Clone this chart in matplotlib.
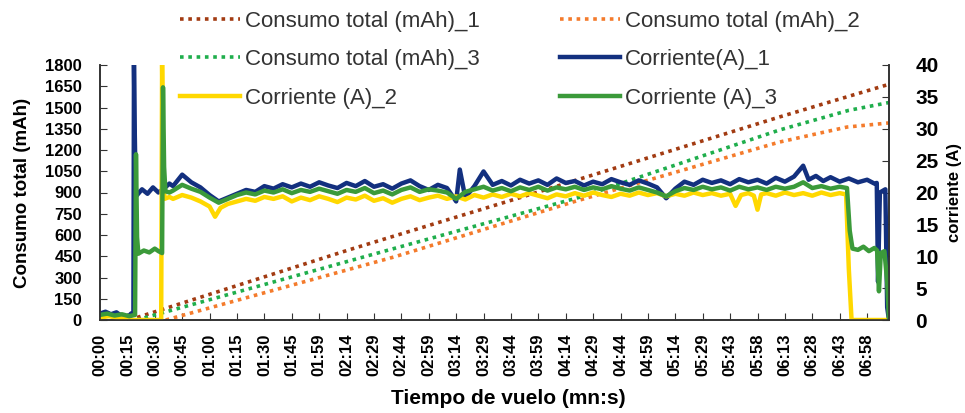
import matplotlib
matplotlib.use("Agg")
import matplotlib.pyplot as plt

plt.rcParams['font.family'] = ['Liberation Sans', 'DejaVu Sans']

# tick labels of the time axis (mn:s), one every ~15 s
tick_labels = ["00:00", "00:15", "00:30", "00:45", "01:00", "01:15", "01:30", "01:45",
               "01:59", "02:14", "02:29", "02:44", "02:59", "03:14", "03:29", "03:44",
               "03:59", "04:14", "04:29", "04:44", "04:59", "05:14", "05:29", "05:43",
               "05:58", "06:13", "06:28", "06:43", "06:58"]

# total consumption (mAh), read at a few points (time in s)
t_c1 = [16, 136, 231, 372, 431]
c1 = [0, 494, 868, 1433, 1660]
t_c2 = [36, 161, 259, 372, 409, 432]
c2 = [0, 445, 833, 1256, 1362, 1391]
t_c3 = [20, 158, 263, 372, 410, 432]
c3 = [0, 494, 868, 1341, 1480, 1535]

# current (A)
t_i1 = [0, 3, 6, 9, 12, 15, 17, 18.3, 18.6, 19.0, 19.5, 20, 23, 26, 29, 32, 35, 38,
        40, 45, 50, 55, 60, 65, 70, 75, 80, 85, 90, 95, 100, 105, 110, 115, 120, 125,
        130, 135, 140, 145, 150, 155, 160, 165, 170, 175, 180, 185, 190, 195, 197, 200,
        205, 210, 215, 220, 225, 230, 235, 240, 245, 250, 255, 260, 265, 270, 275, 280,
        285, 290, 295, 300, 305, 310, 315, 320, 325, 330, 335, 340, 345, 350, 355, 360,
        365, 370, 375, 380, 385, 388, 392, 396, 400, 405, 410, 415, 420, 424, 425.3,
        426, 427, 430, 431, 432]
i1 = [1.0, 1.3, 0.9, 1.2, 0.6, 0.4, 1.0, 1.2, 40, 30, 21, 19.5, 20.5, 19.8, 20.8, 20.0, 20.6, 21.4,
      21.0, 22.8, 21.6, 20.8, 19.6, 18.6, 19.2, 19.8, 20.4, 20.1, 21.0, 20.6, 21.3, 20.8, 21.4, 20.9, 21.6, 21.1,
      20.7, 21.5, 21.0, 21.8, 20.9, 21.3, 20.6, 21.4, 21.9, 21.0, 20.4, 21.2, 20.7, 18.6, 23.6, 19.2,
      21.0, 23.3, 21.2, 21.8, 21.1, 22.0, 21.4, 21.9, 21.2, 22.2, 21.5, 21.8, 21.1, 21.7, 21.3, 22.1,
      21.6, 21.2, 21.9, 21.4, 20.8, 19.1, 20.6, 21.7, 21.2, 22.0, 21.5, 21.9, 21.3, 22.1, 21.6, 22.0,
      21.4, 22.3, 21.7, 22.5, 24.2, 22.0, 22.6, 21.8, 22.4, 21.7, 22.2, 21.6, 22.0, 21.4, 21.5,
      6.0, 20.0, 20.5, 2.0, 0.0]

t_i2 = [0, 5, 10, 14, 17, 33.5, 34, 34.6, 35.3, 38,
        40, 45, 50, 55, 60, 63, 66, 70, 75, 80, 85, 90, 95, 100, 105, 110, 115, 120, 125,
        130, 135, 140, 145, 150, 155, 160, 165, 170, 175, 180, 185, 190, 195, 200, 205,
        210, 215, 220, 225, 230, 235, 240, 245, 250, 255, 260, 265, 270, 275, 280, 285,
        290, 295, 300, 305, 310, 315, 320, 325, 330, 335, 340, 345, 348, 351, 355, 358,
        360, 362, 365, 370, 375, 380, 385, 390, 395, 400, 405, 408.5, 410, 411.5, 432]
i2 = [0.4, 0.6, 0.3, 0.2, 0.0, 0.0, 40, 25, 19, 19.3,
      19.0, 19.6, 19.2, 18.6, 17.8, 16.2, 17.6, 18.2, 18.6, 19.0, 18.7, 19.3, 19.0, 19.4, 18.6, 19.2, 18.8, 19.4, 19.0,
      18.5, 19.2, 18.9, 19.5, 18.7, 19.1, 18.4, 19.0, 19.4, 18.8, 19.2, 19.5, 19.0, 19.4, 18.9, 19.6,
      19.2, 19.7, 19.3, 19.8, 19.4, 19.9, 19.5, 19.1, 19.7, 19.4, 19.9, 19.5, 20.0, 19.6, 19.3, 19.8,
      19.5, 20.0, 19.6, 19.9, 19.4, 19.8, 19.5, 20.0, 19.6, 19.9, 19.5, 19.8, 17.9, 19.6, 19.9, 19.5,
      17.3, 19.7, 19.9, 19.5, 20.0, 19.6, 19.9, 19.5, 20.0, 19.6, 19.9, 19.7, 8.0, 0.0, 0.0]

t_i3 = [0, 4, 8, 12, 16, 19.2, 19.7, 20.3, 21, 24, 27, 30, 32, 34, 34.5, 35.1, 35.8, 38,
        40, 45, 50, 55, 60, 65, 70, 75, 80, 85, 90, 95, 100, 105, 110, 115, 120, 125,
        130, 135, 140, 145, 150, 155, 160, 165, 170, 175, 180, 185, 190, 195, 200, 205,
        210, 215, 220, 225, 230, 235, 240, 245, 250, 255, 260, 265, 270, 275, 280, 285,
        290, 295, 300, 305, 310, 315, 320, 325, 330, 335, 340, 345, 350, 355, 360, 365,
        370, 375, 380, 385, 390, 395, 400, 405, 409, 410.5, 412, 415, 418, 421, 424,
        425.5, 426.5, 427.5, 429.5, 431, 432]
i3 = [0.8, 1.0, 0.7, 0.9, 0.6, 0.8, 26, 13, 10.4, 10.9, 10.6, 11.2, 10.8, 10.5, 36.5, 24, 20.2, 20.0,
      20.3, 21.2, 20.6, 20.1, 19.2, 18.4, 19.0, 19.6, 20.0, 19.7, 20.3, 20.0, 20.5, 19.9, 20.4, 20.1, 20.6, 20.2,
      19.8, 20.4, 20.1, 20.7, 19.9, 20.3, 19.7, 20.4, 20.8, 20.1, 20.5, 20.3, 20.0, 19.0, 20.1, 20.5,
      20.9, 20.3, 20.7, 20.2, 20.8, 20.4, 20.9, 20.3, 20.8, 20.5, 20.9, 20.4, 20.8, 20.5, 21.0, 20.6,
      20.3, 20.8, 20.4, 20.0, 19.4, 20.2, 20.7, 20.4, 20.9, 20.5, 20.8, 20.3, 20.9, 20.5, 20.8, 20.4,
      20.9, 20.6, 20.9, 21.6, 20.7, 21.0, 20.6, 20.9, 20.7, 14.0, 11.2, 11.0, 11.5, 10.8, 11.3,
      10.9, 4.5, 10.5, 10.8, 6.0, 0.0]

c_red = "#a23b12"
c_orange = "#f47b2c"
c_green_dot = "#1fae4c"
c_blue = "#13307f"
c_yellow = "#ffd800"
c_green = "#3b9a3a"
axis_col = "#333333"

fig = plt.figure(figsize=(9.65, 4.13), dpi=100)
ax = fig.add_axes([100 / 965, 1 - 320 / 413, 789 / 965, 255 / 413])
ax2 = ax.twinx()

dot = (0, (1, 1.3))
l_c1, = ax.plot(t_c1, c1, color=c_red, lw=2.6, ls=dot)
l_c2, = ax.plot(t_c2, c2, color=c_orange, lw=2.6, ls=dot)
l_c3, = ax.plot(t_c3, c3, color=c_green_dot, lw=2.6, ls=dot)

l_i1, = ax2.plot(t_i1, i1, color=c_blue, lw=3.2)
l_i2, = ax2.plot(t_i2, i2, color=c_yellow, lw=3.2)
l_i3, = ax2.plot(t_i3, i3, color=c_green, lw=3.2)

ax.set_xlim(0, 432)
ax.set_ylim(0, 1800)
ax2.set_ylim(0, 40)
ax.set_yticks(range(0, 1801, 150))
ax2.set_yticks(range(0, 41, 5))
ax.set_xticks([i * 15 for i in range(len(tick_labels))])
ax.set_xticklabels(tick_labels, rotation=90)

for a in (ax, ax2):
    a.spines['top'].set_visible(False)
    for s in ('left', 'right', 'bottom'):
        a.spines[s].set_color(axis_col)
        a.spines[s].set_linewidth(1.2)
    a.set_facecolor('none')

ax.tick_params(axis='x', direction='in', length=5, pad=10, labelsize=12, colors=axis_col, labelcolor='black')
ax.tick_params(axis='y', direction='in', length=5, pad=13, labelsize=12, colors=axis_col, labelcolor='black')
ax2.tick_params(axis='y', direction='in', length=5, pad=19, labelsize=15, colors=axis_col, labelcolor='black')
for lab in ax.get_xticklabels() + ax.get_yticklabels() + ax2.get_yticklabels():
    lab.set_fontweight('bold')

ax.set_xlabel("Tiempo de vuelo (mn:s)", fontsize=15, fontweight='bold')
ax.xaxis.set_label_coords(0.518, -0.27)
ax.set_ylabel("Consumo total (mAh)", fontsize=13.5, fontweight='bold')
ax.yaxis.set_label_coords(-0.087, 0.5)
ax2.set_ylabel("corriente (A)", fontsize=12, fontweight='bold', labelpad=6)

handles = [l_c1, l_c3, l_i2, l_c2, l_i1, l_i3]
labels = ["Consumo total (mAh)_1", "Consumo total (mAh)_3", "Corriente (A)_2",
          "Consumo total (mAh)_2", "Corriente(A)_1", "Corriente (A)_3"]
leg = fig.legend(handles, labels, ncol=2, loc='upper left', bbox_to_anchor=(160 / 965, 1.022),
                 frameon=False, fontsize=16, handlelength=2.7, handletextpad=0.22,
                 columnspacing=3.6, labelspacing=0.78)
for txt in leg.get_texts():
    txt.set_color("#333333")

fig.savefig("out.png", dpi=100)
